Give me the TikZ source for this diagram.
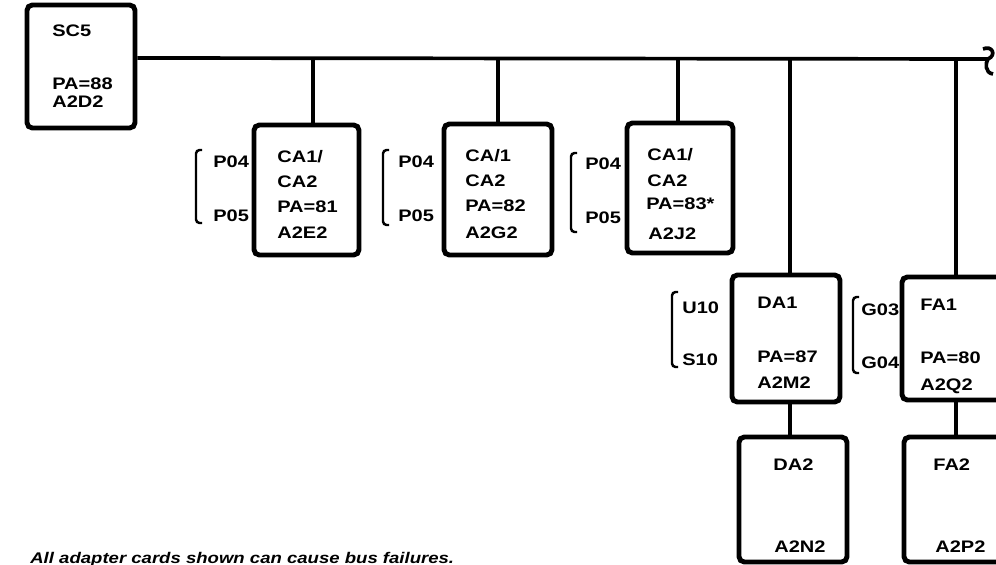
\documentclass[tikz,border=0pt]{standalone}
\usepackage{fontspec}
\setmainfont{Liberation Sans}[FakeStretch=1.2]

\begin{document}
\begin{tikzpicture}[x=0.02cm, y=-0.02cm,
    card/.style={draw, line width=2.8pt, rounded corners=3pt, inner sep=0pt, minimum width=2.16cm},
    txt/.style={anchor=base west, inner sep=0pt, font=\fontsize{9.5}{11}\selectfont\bfseries},
    bus/.style={line width=2.1pt},
    bracket/.style={line width=1.4pt, rounded corners=2pt}]
    \useasboundingbox (0,0) rectangle (996,564);

    % System card and the bus
    \node[card, minimum height=2.46cm] (sc5) at (81,66.5) {};
    \node[txt] (sc5a) at (52,37) {SC5};
    \node[txt] (sc5b) at (52,90) {PA=88};
    \node[txt] (sc5c) at (52,108) {A2D2};

    \coordinate (b1) at (313,58);
    \coordinate (b2) at (498,58);
    \coordinate (b3) at (678,58);
    \coordinate (b4) at (790,58);
    \coordinate (b5) at (956,58);
    \coordinate (bend) at (988,59);
    \draw[bus] (sc5.east |- b1) -- (bend);
    \draw[bus] (983,49) .. controls (992,45) and (997,55) .. (bend)
        .. controls (985,63) and (985,73) .. (993,74);

    % Communication adapters
    \node[card, minimum width=2.10cm, minimum height=2.60cm] (ca1) at (306.5,190) {};
    \node[txt] (ca1a) at (277,163) {CA1/};
    \node[txt] (ca1b) at (277,188) {CA2};
    \node[txt] (ca1c) at (277,213) {PA=81};
    \node[txt] (ca1d) at (277,238) {A2E2};
    \node[txt] (ca1p) at (213,168) {P04};
    \node[txt] (ca1q) at (213,221) {P05};
    \draw[bracket] (202,150) -- (196,150) -- (196,223) -- (202,223);
    \draw[bus] (b1) -- (b1 |- ca1.north);

    \node[card, minimum height=2.62cm] (ca2) at (498,189.5) {};
    \node[txt] (ca2a) at (465,162) {CA/1};
    \node[txt] (ca2b) at (465,187) {CA2};
    \node[txt] (ca2c) at (465,212) {PA=82};
    \node[txt] (ca2d) at (465,238) {A2G2};
    \node[txt] (ca2p) at (398,168) {P04};
    \node[txt] (ca2q) at (398,221) {P05};
    \draw[bracket] (389,150) -- (383,150) -- (383,225) -- (389,225);
    \draw[bus] (b2) -- (ca2.north);

    \node[card, minimum width=2.12cm, minimum height=2.60cm] (ca3) at (680,188) {};
    \node[txt] (ca3a) at (647,161) {CA1/};
    \node[txt] (ca3b) at (647,187) {CA2};
    \node[txt] (ca3c) at (646,210) {PA=83*};
    \node[txt] (ca3d) at (648,239) {A2J2};
    \node[txt] (ca3p) at (585,170) {P04};
    \node[txt] (ca3q) at (585,223) {P05};
    \draw[bracket] (577,153) -- (571,153) -- (571,232) -- (577,232);
    \draw[bus] (b3) -- (b3 |- ca3.north);

    % Disk adapter
    \node[card, minimum height=2.54cm] (da1) at (786,338.5) {};
    \node[txt] (da1a) at (757,308) {DA1};
    \node[txt] (da1b) at (757,362) {PA=87};
    \node[txt] (da1c) at (757,388) {A2M2};
    \node[txt] (da1p) at (682,313) {U10};
    \node[txt] (da1q) at (682,365) {S10};
    \draw[bracket] (678,292) -- (672,292) -- (672,367) -- (678,367);
    \draw[bus] (b4) -- (b4 |- da1.north);

    \node[card, minimum height=2.50cm] (da2) at (793,499.5) {};
    \node[txt] (da2a) at (773,470) {DA2};
    \node[txt] (da2b) at (774,552) {A2N2};
    \draw[bus] (b4 |- da1.south) -- (b4 |- da2.north);

    % Diskette adapter
    \node[card, minimum height=2.46cm] (fa1) at (956,338.5) {};
    \node[txt] (fa1a) at (920,310) {FA1};
    \node[txt] (fa1b) at (920,363) {PA=80};
    \node[txt] (fa1c) at (920,390) {A2Q2};
    \node[txt] (fa1p) at (861,315) {G03};
    \node[txt] (fa1q) at (861,368) {G04};
    \draw[bracket] (859,297) -- (853,297) -- (853,373) -- (859,373);
    \draw[bus] (b5) -- (fa1.north);

    \node[card, minimum height=2.50cm] (fa2) at (958,499.5) {};
    \node[txt] (fa2a) at (933,470) {FA2};
    \node[txt] (fa2b) at (935,552) {A2P2};
    \draw[bus] (b5 |- fa1.south) -- (b5 |- fa2.north);

    % Note
    \node[txt, font=\fontsize{8.8}{10}\selectfont\bfseries\itshape] (note) at (30,563)
        {All adapter cards shown can cause bus failures.};
\end{tikzpicture}
\end{document}
